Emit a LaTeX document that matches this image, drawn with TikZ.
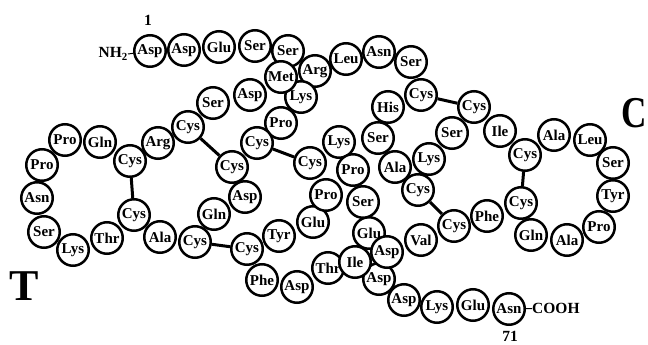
\documentclass[tikz,border=0pt]{standalone}
\usepackage{fontspec}
\setmainfont{Liberation Serif}
\tikzset{
  res/.style={circle,draw,fill=white,line width=2.5pt,minimum size=31.5pt,inner sep=0pt,font=\fontsize{15}{16}\selectfont\bfseries},
  ssbond/.style={line width=3pt},
  link/.style={line width=1pt},
  tag/.style={inner sep=0pt,font=\fontsize{15.5}{16}\selectfont\bfseries},
  chainlabel/.style={inner sep=0pt,font=\fontsize{44}{46}\selectfont\bfseries}
}
\begin{document}
\begin{tikzpicture}[x=1pt,y=-1pt]
  \useasboundingbox (0,0) rectangle (648,345);
  \node[res] (asp3) at (379,279) {Asp};
  \node[res] (glu3) at (369,233) {Glu};
  \node[res] (thr2) at (328,268) {Thr};
  \node[res] (ile1) at (355,262) {Ile};
  \node[res] (asp4) at (387,252) {Asp};
  \node[res] (asp5) at (404,300) {Asp};
  \node[res] (lys3) at (437,307) {Lys};
  \node[res] (glu4) at (473,305) {Glu};
  \node[res] (asn3) at (509,309) {Asn};
  \node[res] (asp1) at (150,51) {Asp};
  \node[res] (asp2) at (184,50) {Asp};
  \node[res] (glu1) at (219,47) {Glu};
  \node[res] (ser1) at (255,46) {Ser};
  \node[res] (ser2) at (288,51) {Ser};
  \node[res] (leu1) at (346,59) {Leu};
  \node[res] (asn1) at (379,52) {Asn};
  \node[res] (ser3) at (411,62) {Ser};
  \node[res] (arg1) at (315,71) {Arg};
  \node[res] (lys1) at (301,97) {Lys};
  \node[res] (met1) at (281,77) {Met};
  \node[res] (pro1) at (281,123) {Pro};
  \node[res] (asp6) at (250,95) {Asp};
  \node[res] (ser4) at (213,103) {Ser};
  \node[res] (cys1) at (188,127) {Cys};
  \node[res] (arg2) at (158,143) {Arg};
  \node[res] (cys2) at (130,161) {Cys};
  \node[res] (gln1) at (100,142) {Gln};
  \node[res] (pro2) at (65,140) {Pro};
  \node[res] (pro3) at (42,165) {Pro};
  \node[res] (asn2) at (37,198) {Asn};
  \node[res] (ser5) at (44,232) {Ser};
  \node[res] (lys2) at (73,250) {Lys};
  \node[res] (thr1) at (107,238) {Thr};
  \node[res] (cys3) at (134,215) {Cys};
  \node[res] (ala1) at (160,237) {Ala};
  \node[res] (cys4) at (195,242) {Cys};
  \node[res] (gln2) at (214,214) {Gln};
  \node[res] (asp7) at (245,197) {Asp};
  \node[res] (cys5) at (232,167) {Cys};
  \node[res] (cys6) at (257,143) {Cys};
  \node[res] (cys7) at (310,163) {Cys};
  \node[res] (lys4) at (339,142) {Lys};
  \node[res] (pro4) at (353,170) {Pro};
  \node[res] (glu2) at (313,222) {Glu};
  \node[res] (pro5) at (326,195) {Pro};
  \node[res] (ser6) at (363,202) {Ser};
  \node[res] (tyr1) at (279,236) {Tyr};
  \node[res] (phe1) at (262,280) {Phe};
  \node[res] (cys8) at (247,249) {Cys};
  \node[res] (asp8) at (297,287) {Asp};
  \node[res] (val1) at (421,240) {Val};
  \node[res] (cys9) at (454,226) {Cys};
  \node[res] (phe2) at (487,216) {Phe};
  \node[res] (cys10) at (521,203) {Cys};
  \node[res] (gln3) at (531,235) {Gln};
  \node[res] (ala2) at (567,240) {Ala};
  \node[res] (pro6) at (599,227) {Pro};
  \node[res] (tyr2) at (613,196) {Tyr};
  \node[res] (ser7) at (613,163) {Ser};
  \node[res] (leu2) at (590,140) {Leu};
  \node[res] (ala3) at (554,135) {Ala};
  \node[res] (cys11) at (525,155) {Cys};
  \node[res] (ile2) at (500,131) {Ile};
  \node[res] (cys12) at (474,107) {Cys};
  \node[res] (cys13) at (421,95) {Cys};
  \node[res] (his1) at (388,107) {His};
  \node[res] (ser8) at (378,138) {Ser};
  \node[res] (ala4) at (395,167) {Ala};
  \node[res] (ser9) at (452,133) {Ser};
  \node[res] (lys5) at (429,159) {Lys};
  \node[res] (cys14) at (418,190) {Cys};
  \draw[ssbond] (cys2) -- (cys3);
  \draw[ssbond] (cys1) -- (cys5);
  \draw[ssbond] (cys6) -- (cys7);
  \draw[ssbond] (cys4) -- (cys8);
  \draw[ssbond] (cys13) -- (cys12);
  \draw[ssbond] (cys14) -- (cys9);
  \draw[ssbond] (cys11) -- (cys10);
  \node[tag,anchor=east] (nh2) at (128,54) {NH$_{\mathbf{2}}$};
  \node[tag,anchor=west] (cooh) at (532,308) {COOH};
  \draw[link] (nh2.east) -- (asp1);
  \draw[link] (asn3) -- (cooh);
  \node[tag] (first) at (148,20) {1};
  \node[tag] (last) at (510,336) {71};
  \node[chainlabel] (tlab) at (24,286) {T};
  \node[chainlabel,anchor=east,xscale=0.8] (clab) at (647,113) {C};
\end{tikzpicture}
\end{document}
